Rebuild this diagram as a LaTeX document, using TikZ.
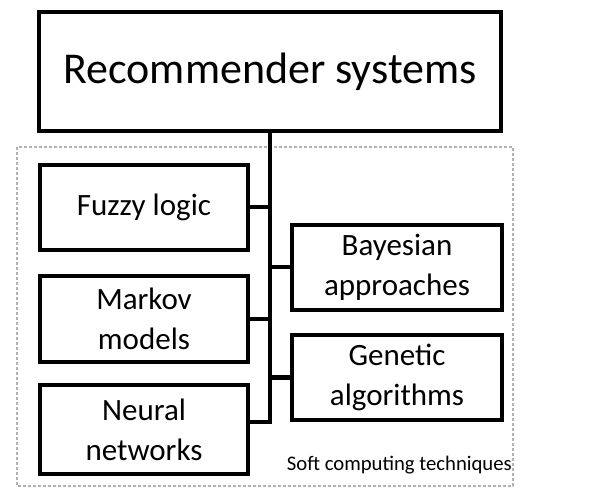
\documentclass[tikz,border=0pt]{standalone}
\usepackage{fontspec}
\setmainfont{Carlito}
\usepackage{tikz}
\usetikzlibrary{positioning,calc}
\tikzset{>=latex}
\tikzset{box/.style={draw=black, line width=4pt, fill=white, align=center,
    font=\fontsize{31}{40}\selectfont, inner sep=0pt}}
\tikzset{link/.style={line width=4pt, line cap=rect}}
\tikzset{softframe/.style={draw=black!30, line width=2.5pt,
    dash pattern=on 3pt off 2pt}}

\begin{document}
\begin{tikzpicture}[x=1pt,y=-1pt]
          \useasboundingbox (0,0) rectangle (595,489);
          % dotted frame for the soft computing group
          \draw[softframe] (17,147) rectangle (513,486);
          \node[box, minimum width=462pt, minimum height=119pt,
            font=\fontsize{44}{48}\selectfont] (rec) at (270,71.5) {Recommender systems};
          \node[box, minimum width=208pt, minimum height=85pt] (fuzzy) at (144,207.5) {Fuzzy logic};
          \node[box, minimum width=208pt, minimum height=86pt] (markov) at (144,319) {Markov\\models};
          \node[box, minimum width=208pt, minimum height=89pt] (neural) at (144,429.5) {Neural\\networks};
          \node[box, minimum width=210pt, minimum height=85pt] (bayes) at (397,267.5) {Bayesian\\approaches};
          \node[box, minimum width=210pt, minimum height=85pt] (genetic) at (397,377.5) {Genetic\\algorithms};
          \node[anchor=base east, font=\fontsize{20.7}{24}\selectfont, inner sep=0pt]
            (soft) at (512,470) {Soft computing techniques};
          \draw[link] (rec.south) |- ([yshift=7.5pt]neural.east);
          \foreach \n in {fuzzy, markov}
            \draw[link] (\n.east) -- (\n.east -| rec.south);
          \foreach \n in {bayes, genetic}
            \draw[link] (\n.west) -- (\n.west -| rec.south);
\end{tikzpicture}
\end{document}
